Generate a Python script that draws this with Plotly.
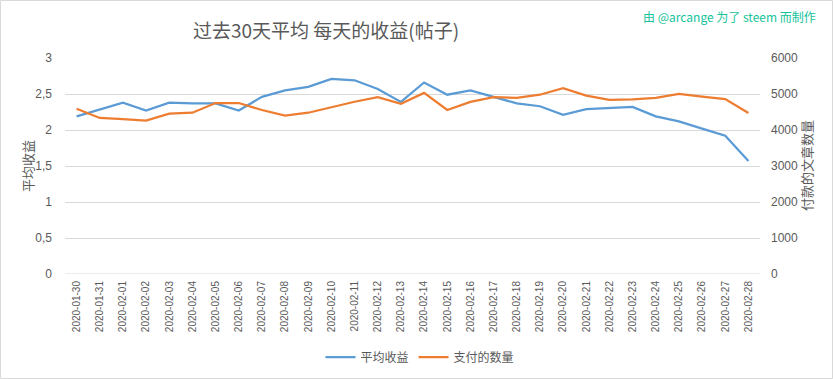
import plotly.graph_objects as go

dates = ["2020-01-30", "2020-01-31", "2020-02-01", "2020-02-02", "2020-02-03", "2020-02-04",
         "2020-02-05", "2020-02-06", "2020-02-07", "2020-02-08", "2020-02-09", "2020-02-10",
         "2020-02-11", "2020-02-12", "2020-02-13", "2020-02-14", "2020-02-15", "2020-02-16",
         "2020-02-17", "2020-02-18", "2020-02-19", "2020-02-20", "2020-02-21", "2020-02-22",
         "2020-02-23", "2020-02-24", "2020-02-25", "2020-02-26", "2020-02-27", "2020-02-28"]

avg_payout = [2.19, 2.29, 2.38, 2.27, 2.38, 2.37, 2.37, 2.27, 2.46, 2.55, 2.60, 2.71,
              2.69, 2.57, 2.39, 2.66, 2.49, 2.55, 2.46, 2.37, 2.33, 2.21, 2.29, 2.31,
              2.32, 2.19, 2.12, 2.02, 1.92, 1.57]

post_count = [4590, 4335, 4305, 4260, 4455, 4480, 4750, 4750, 4555, 4400, 4480, 4640,
              4785, 4915, 4730, 5030, 4555, 4780, 4915, 4890, 4980, 5165, 4955, 4835,
              4850, 4890, 5000, 4925, 4860, 4470]

left_ticks = [0, 0.5, 1, 1.5, 2, 2.5, 3]
left_ticktext = ["0", "0,5", "1", "1,5", "2", "2,5", "3"]
right_ticks = [0, 1000, 2000, 3000, 4000, 5000, 6000]

title_text = "过去30天平均 每天的收益(帖子)"
credit_text = "由 @arcange 为了 steem 而制作"
left_title = "平均收益"
right_title = "付款的文章数量"
series_names = ["平均收益", "支付的数量"]

FONT = "Noto Sans CJK SC, Liberation Sans, Arial, sans-serif"
GRAY = "#595959"
BLUE = "#5B9BD5"
ORANGE = "#ED7D31"

fig = go.Figure()
fig.add_trace(go.Scatter(x=dates, y=avg_payout, name=series_names[0], mode="lines",
                         line=dict(color=BLUE, width=2.25), yaxis="y"))
fig.add_trace(go.Scatter(x=dates, y=post_count, name=series_names[1], mode="lines",
                         line=dict(color=ORANGE, width=2.25), yaxis="y2"))

W, H = 833, 379
L, R, T, B = 65, 73, 58, 105
pw, ph = W - L - R, H - T - B

fig.update_layout(
    width=W, height=H,
    margin=dict(l=L, r=R, t=T, b=B, autoexpand=False),
    paper_bgcolor="white", plot_bgcolor="white",
    font=dict(family=FONT, color=GRAY, size=12),
    title=dict(text=title_text, x=326 / W, xanchor="center", y=1 - 31 / H, yanchor="middle",
               font=dict(family=FONT, size=19, color=GRAY)),
    showlegend=True,
    legend=dict(orientation="h", xref="container", yref="container",
                x=420 / W, xanchor="center", y=1 - 357 / H, yanchor="middle",
                font=dict(family=FONT, size=12, color=GRAY),
                itemwidth=30, tracegroupgap=0),
    xaxis=dict(type="category", range=[-0.5, len(dates) - 0.5], tickangle=-90,
               tickfont=dict(family="Liberation Sans, Arial", size=10, color=GRAY),
               showgrid=False, showline=False, zeroline=False, ticks="", ticklabelstandoff=4,
               automargin=False),
    yaxis=dict(range=[0, 3], tickvals=left_ticks, ticktext=left_ticktext,
               tickfont=dict(family="Liberation Sans, Arial", size=12, color=GRAY),
               showgrid=True, gridcolor="#D9D9D9", gridwidth=1, zeroline=False, showline=False,
               ticks="", ticklabelstandoff=12, automargin=False),
    yaxis2=dict(range=[0, 6000], tickvals=right_ticks, overlaying="y", side="right",
                tickfont=dict(family="Liberation Sans, Arial", size=12, color=GRAY),
                showgrid=False, zeroline=False, showline=False, ticks="", ticklabelstandoff=10,
                automargin=False),
    annotations=[
        dict(text=credit_text, xref="paper", yref="paper", x=(818 - L) / pw, y=(T + ph - 17) / ph,
             xanchor="right", yanchor="middle", showarrow=False,
             font=dict(family=FONT, size=12, color="#14C39A")),
        dict(text=left_title, xref="paper", yref="paper", x=(27 - L) / pw, y=0.5,
             xanchor="center", yanchor="middle", showarrow=False, textangle=-90,
             font=dict(family=FONT, size=13, color=GRAY)),
        dict(text=right_title, xref="paper", yref="paper", x=(806 - L) / pw, y=0.5,
             xanchor="center", yanchor="middle", showarrow=False, textangle=-90,
             font=dict(family=FONT, size=13, color=GRAY)),
    ],
    shapes=[
        dict(type="rect", xref="paper", yref="paper",
             x0=(0.5 - L) / pw, x1=(W - 0.5 - L) / pw,
             y0=(T + ph - (H - 0.5)) / ph, y1=(T + ph - 0.5) / ph,
             line=dict(color="#D9D9D9", width=1), fillcolor="rgba(0,0,0,0)", layer="below"),
        dict(type="line", xref="paper", yref="y", x0=0, x1=1, y0=0, y1=0,
             line=dict(color="#D9D9D9", width=1), layer="below"),
    ],
)

fig.write_html("out.html", config={"displayModeBar": False},
               post_script="document.body.style.margin='0';document.body.style.overflow='hidden';")
